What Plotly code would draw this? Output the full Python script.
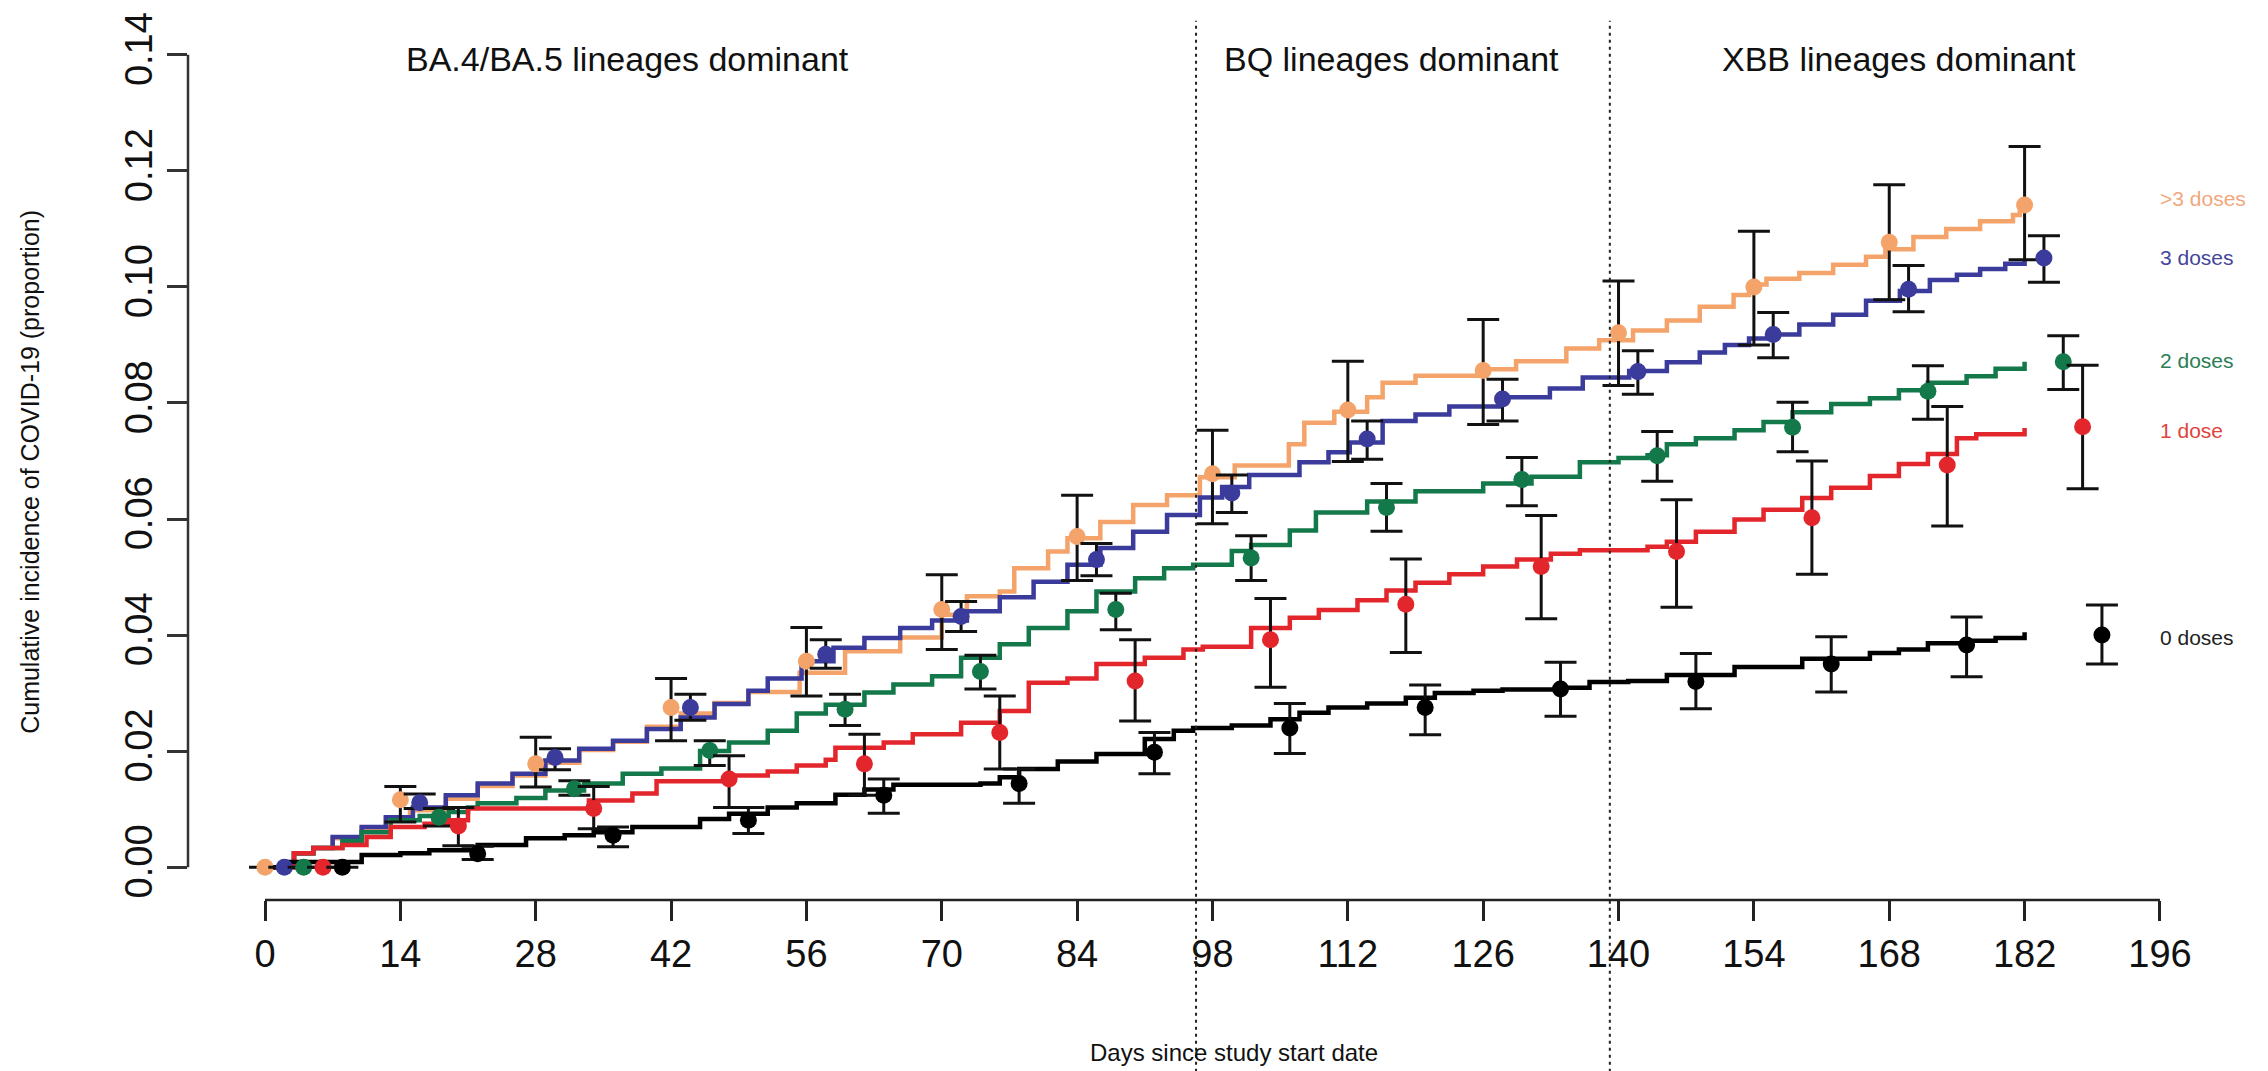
import plotly.graph_objects as go

# ---------------- step curves: cumulative incidence by day ----------------
gt3_curve_days = [0, 3, 5, 7, 10, 12.5, 15, 18.7, 22, 25.6, 29, 32.5, 36, 39.5, 43, 46.5, 50, 55.3, 60, 65.7,
                  70, 72.6, 76, 77.5, 81, 83, 86.4, 89.8, 93.3, 96.7, 100.3, 105.9, 107.5, 110.6, 114, 115.6,
                  119, 126, 129.4, 134.6, 138, 141.5, 145, 148.4, 151.9, 153.5, 155.3, 158.7, 162.2, 165.6,
                  167.6, 170.5, 173.9, 177.4, 180.8, 181.5, 182]
gt3_curve_vals = [0, .0024, .0033, .005, .0066, .0083, .0098, .0118, .014, .0158, .018, .0202, .0216, .0242,
                  .0265, .0283, .0302, .0335, .0372, .0396, .0435, .0467, .0475, .0515, .0544, .0567, .0595,
                  .0624, .0641, .0672, .0692, .0729, .0766, .0785, .081, .0835, .0847, .0858, .0872, .0894,
                  .0908, .0925, .0942, .0966, .0986, .1004, .1014, .1024, .1038, .1052, .1065, .1086, .11,
                  .1113, .1124, .1137, .1141]

d3_curve_days = [0, 3, 5, 7, 10, 12.5, 15.3, 18.7, 22, 25.6, 29, 32.5, 36, 39.5, 43, 46.5, 50, 52, 55.5, 58.8,
                 62, 65.7, 69, 72.6, 76, 79.5, 83, 86.4, 89.8, 93.3, 96.7, 99, 101.8, 107, 110, 112.2, 115.6,
                 119, 122.5, 127.7, 132.9, 136.3, 141.1, 145, 148.4, 151, 153.5, 156, 158.7, 162.2, 165.6,
                 169.1, 172.2, 175, 177.4, 180, 182]
d3_curve_vals = [0, .0024, .0033, .0052, .0069, .0086, .0103, .0124, .0144, .0161, .0184, .0204, .0218, .0238,
                 .0258, .0281, .0304, .0325, .0355, .0378, .0395, .0412, .0425, .0441, .0465, .0492, .0521,
                 .055, .0578, .0607, .0637, .0655, .0676, .0698, .0715, .0732, .0769, .078, .0794, .081,
                 .0825, .0844, .0855, .087, .0887, .09, .0911, .0918, .0935, .0952, .0976, .0993, .1012,
                 .1021, .1031, .104, .1048]

d2_curve_days = [0, 3, 5, 8, 10, 13, 16, 19, 21, 22, 26, 29, 33, 37, 41, 45, 48, 52, 55, 58, 62, 65, 69, 72,
                 76, 79, 83, 86, 90, 93, 96, 100, 102, 106, 108.7, 114, 119, 126, 131, 136, 140, 143, 145,
                 148, 152, 155, 158, 162, 166, 169, 172, 176, 179, 182]
d2_curve_vals = [0, .0024, .0033, .0045, .006, .0081, .0088, .0095, .0103, .011, .0119, .0132, .0144, .0161,
                 .017, .02, .0215, .0235, .0265, .028, .0301, .0315, .0329, .0361, .0384, .0412, .0441, .0475,
                 .0498, .0515, .0521, .0545, .0555, .058, .0611, .063, .0648, .0661, .0673, .0698, .0705,
                 .071, .0729, .0739, .0753, .0767, .0784, .0798, .0808, .0822, .0835, .0846, .0859, .0871]

d1_curve_days = [0, 3, 5, 8, 10.5, 13, 16.5, 19, 21, 33.5, 38, 40.5, 48, 52, 55, 58, 59, 64, 67, 72, 76, 79,
                 83, 86, 91, 95, 97, 102, 106, 109, 113, 116, 119, 122.5, 126, 129.5, 133, 136, 143, 145, 148,
                 152, 155, 159, 162, 166, 169, 172, 175, 177, 182]
d1_curve_vals = [0, .0024, .0033, .0038, .0052, .0069, .0075, .0081, .0101, .0115, .0127, .0148, .0158, .0165,
                 .0175, .0185, .0206, .0215, .0229, .0249, .0269, .0318, .0325, .035, .0361, .0375, .038,
                 .0412, .043, .0443, .046, .0477, .049, .0505, .0518, .053, .054, .0546, .0552, .0561, .0578,
                 .0599, .0616, .0636, .0654, .0674, .0695, .0712, .0739, .0746, .0757]

d0_curve_days = [0, 2, 10, 14, 17, 22, 27, 31, 34, 38, 45, 48, 52, 55, 59, 62, 65, 74, 76, 78, 82, 86, 91, 94,
                 96, 100, 104, 107, 110, 114, 118, 121, 125, 128, 134, 137, 141, 145, 152, 159, 166, 169, 172,
                 176, 179, 182]
d0_curve_vals = [0, .0009, .0021, .0024, .0029, .0038, .005, .0055, .006, .0069, .0083, .0092, .0103, .011,
                 .0125, .0134, .0142, .0144, .0155, .0169, .0182, .0195, .0221, .0235, .024, .0244, .0255,
                 .0266, .0275, .0282, .0292, .03, .0304, .0306, .0309, .0319, .0321, .0331, .0345, .0359,
                 .0369, .0375, .0386, .039, .0395, .0405]

# ---------------- point estimates with 95% intervals ----------------
gt3_pt_days = [0, 14, 28, 42, 56, 70, 84, 98, 112, 126, 140, 154, 168, 182]
gt3_pt_vals = [0, .0116, .0178, .0275, .0355, .0444, .057, .0678, .0788, .0856, .0921, .1, .1077, .1141]
gt3_pt_lo = [0, .0078, .0138, .0218, .0295, .0375, .0494, .0592, .0699, .0763, .083, .09, .0978, .1047]
gt3_pt_hi = [0, .0139, .0224, .0325, .0413, .0504, .0641, .0753, .0872, .0944, .101, .1096, .1176, .1242]

d3_pt_days = [2, 16, 30, 44, 58, 72, 86, 100, 114, 128, 142, 156, 170, 184]
d3_pt_vals = [0, .0111, .0189, .0275, .0367, .0432, .053, .0645, .0738, .0807, .0854, .0918, .0996, .105]
d3_pt_lo = [0, .0101, .0168, .0253, .0343, .0406, .0502, .0611, .0703, .0769, .0815, .0878, .0957, .1008]
d3_pt_hi = [0, .0126, .0204, .0298, .0392, .0458, .0558, .0676, .0769, .0841, .089, .0956, .1037, .1088]

d2_pt_days = [4, 18, 32, 46, 60, 74, 88, 102, 116, 130, 144, 158, 172, 186]
d2_pt_vals = [0, .0086, .0135, .0201, .0272, .0337, .0444, .0533, .062, .0668, .0709, .0758, .082, .0871]
d2_pt_lo = [0, .0071, .0124, .0175, .0244, .0307, .0409, .0494, .0579, .0623, .0665, .0716, .0772, .0823]
d2_pt_hi = [0, .0101, .0149, .0218, .0298, .0365, .0472, .0571, .0661, .0706, .0751, .0801, .0864, .0916]

d1_pt_days = [6, 20, 34, 48, 62, 76, 90, 104, 118, 132, 146, 160, 174, 188]
d1_pt_vals = [0, .0071, .0101, .0152, .0178, .0232, .0321, .0392, .0453, .0518, .0544, .0602, .0693, .0759]
d1_pt_lo = [0, .0037, .0066, .0103, .0124, .0169, .0252, .031, .037, .0428, .0448, .0505, .0588, .0652]
d1_pt_hi = [0, .0103, .0139, .0192, .0229, .0295, .0392, .0463, .0531, .0606, .0633, .07, .0794, .0865]

d0_pt_days = [8, 22, 36, 50, 64, 78, 92, 106, 120, 134, 148, 162, 176, 190]
d0_pt_vals = [0, .0023, .0055, .0081, .0124, .0144, .0198, .024, .0275, .0307, .032, .035, .0383, .04]
d0_pt_lo = [0, .0013, .0035, .0058, .0093, .011, .0161, .0196, .0228, .026, .0273, .0302, .0328, .035]
d0_pt_hi = [0, .0036, .0069, .0103, .0152, .0169, .0232, .0282, .0314, .0353, .0368, .0397, .0431, .0452]

group_names = [">3 doses", "3 doses", "2 doses", "1 dose", "0 doses"]
group_label_y = [0.1153, 0.1051, 0.0874, 0.0752, 0.0396]

line_colors = ["#F4A46A", "#3B3B9C", "#14794A", "#E3262B", "#000000"]
label_colors = ["#F0A87E", "#45469A", "#2A7D55", "#E0443C", "#222222"]

x_ticks = list(range(0, 197, 14))
y_ticks = [0.00, 0.02, 0.04, 0.06, 0.08, 0.10, 0.12, 0.14]

variant_bounds = [96.3, 139.1]
variant_labels = ["BA.4/BA.5 lineages dominant", "BQ lineages dominant", "XBB lineages dominant"]
variant_label_x = [37.5, 116.5, 169.0]

curves = [
    (gt3_curve_days, gt3_curve_vals),
    (d3_curve_days, d3_curve_vals),
    (d2_curve_days, d2_curve_vals),
    (d1_curve_days, d1_curve_vals),
    (d0_curve_days, d0_curve_vals),
]
points = [
    (gt3_pt_days, gt3_pt_vals, gt3_pt_lo, gt3_pt_hi),
    (d3_pt_days, d3_pt_vals, d3_pt_lo, d3_pt_hi),
    (d2_pt_days, d2_pt_vals, d2_pt_lo, d2_pt_hi),
    (d1_pt_days, d1_pt_vals, d1_pt_lo, d1_pt_hi),
    (d0_pt_days, d0_pt_vals, d0_pt_lo, d0_pt_hi),
]

NARROW = "Liberation Sans Narrow, Arial Narrow, Liberation Sans, Arial, sans-serif"
REGULAR = "Liberation Sans, Arial, sans-serif"

fig = go.Figure()

# step curves for each dose group
for (dx, dv), col in zip(curves, line_colors):
    fig.add_trace(go.Scatter(
        x=dx, y=dv, mode="lines", line=dict(color=col, width=4.5, shape="hv"),
        hoverinfo="skip", showlegend=False))

# point estimates with interval bars
for (px, pv, lo, hi), col in zip(points, line_colors):
    fig.add_trace(go.Scatter(
        x=px, y=pv, mode="markers",
        marker=dict(color=col, size=17, line=dict(width=0)),
        error_y=dict(type="data", symmetric=False,
                     array=[h - v for h, v in zip(hi, pv)],
                     arrayminus=[v - l for v, l in zip(pv, lo)],
                     color="#111111", thickness=3, width=16),
        showlegend=False, cliponaxis=False))

# axis lines spanning only the tick range
fig.add_shape(type="line", xref="x", yref="paper", x0=x_ticks[0], x1=x_ticks[-1], y0=0, y1=0,
              line=dict(color="#222222", width=2.5))
fig.add_shape(type="line", xref="paper", yref="y", x0=0, x1=0, y0=y_ticks[0], y1=y_ticks[-1],
              line=dict(color="#333333", width=2.5))

# variant period boundaries
for b in variant_bounds:
    fig.add_shape(type="line", xref="x", yref="paper", x0=b, x1=b, y0=-0.195, y1=0.998,
                  line=dict(color="#222222", width=2, dash="3px,4px"))

for lab, lx in zip(variant_labels, variant_label_x):
    fig.add_annotation(x=lx, y=0.1392, xref="x", yref="y", text=lab, showarrow=False,
                       font=dict(family=NARROW, size=34, color="#111111"),
                       xanchor="center", yanchor="middle")

for name, ly, col in zip(group_names, group_label_y, label_colors):
    fig.add_annotation(x=195.8, y=ly, xref="x", yref="y", text=name, showarrow=False,
                       font=dict(family=REGULAR, size=21, color=col),
                       xanchor="left", yanchor="middle")

fig.add_annotation(x=0.5097, y=-0.173, xref="paper", yref="paper", text="Days since study start date",
                   showarrow=False, font=dict(family=NARROW, size=24, color="#111111"),
                   xanchor="center", yanchor="middle")
fig.add_annotation(x=-0.077, y=0.486, xref="paper", yref="paper",
                   text="Cumulative incidence of COVID-19 (proportion)", textangle=-90,
                   showarrow=False, font=dict(family=NARROW, size=25, color="#111111"),
                   xanchor="center", yanchor="middle")

fig.update_xaxes(range=[-7.964, 204.28], tickvals=x_ticks, ticktext=[str(t) for t in x_ticks],
                 ticks="outside", ticklen=20, tickwidth=2.5, tickcolor="#222222",
                 showgrid=False, zeroline=False, showline=False,
                 tickfont=dict(family=NARROW, size=38, color="#111111"))
fig.update_yaxes(range=[-0.00566, 0.14617], tickvals=y_ticks, ticktext=[f"{t:.2f}" for t in y_ticks],
                 ticks="outside", ticklen=20, tickwidth=2.5, tickcolor="#333333", tickangle=-90,
                 showgrid=False, zeroline=False, showline=False,
                 tickfont=dict(family=NARROW, size=38, color="#111111"))

fig.update_layout(width=2268, height=1071, margin=dict(l=188, r=28, t=15, b=171),
                  paper_bgcolor="white", plot_bgcolor="white", showlegend=False)

fig.write_html("out.html")
